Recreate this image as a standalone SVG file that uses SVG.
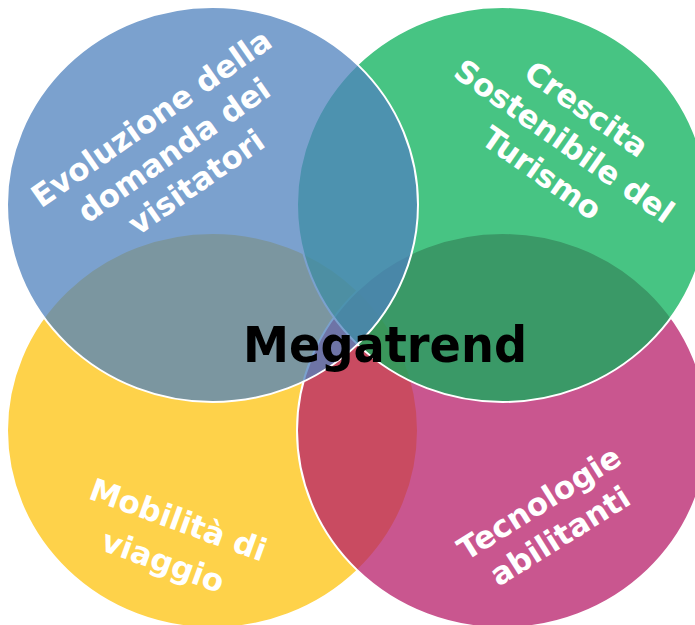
<svg xmlns="http://www.w3.org/2000/svg" width="695" height="625" viewBox="0 0 695 625">
<style>
.c{fill-opacity:0.75;stroke:#fff;stroke-width:2}
.lbl{font-family:"DejaVu Sans","Liberation Sans",sans-serif;font-weight:bold;font-size:31px;fill:#fff;text-anchor:middle}
.title{font-family:"DejaVu Sans","Liberation Sans",sans-serif;font-weight:bold;font-size:50px;fill:#000}
</style>
<rect width="695" height="625" fill="#fff"/>
<g id="node-mobilita">
<ellipse class="c" cx="212.5" cy="430.5" rx="205.5" ry="197.5" fill="#FEC30E"/>
<text class="lbl" transform="translate(174.5,530) rotate(20)"><tspan x="0" y="0">Mobilità di</tspan><tspan x="0" y="44">viaggio</tspan></text>
</g>
<g id="node-tecnologie">
<ellipse class="c" cx="502.5" cy="430.5" rx="205.5" ry="197.5" fill="#B71E6A"/>
<text class="lbl" transform="translate(545,512) rotate(-32)"><tspan x="0" y="0">Tecnologie</tspan><tspan x="0" y="39">abilitanti</tspan></text>
</g>
<g id="node-crescita">
<ellipse class="c" cx="502.5" cy="204.5" rx="205.5" ry="197.5" fill="#0AB05A"/>
<text class="lbl" transform="translate(558,150) rotate(35)"><tspan x="0" y="-39">Crescita</tspan><tspan x="0" y="0">Sostenibile del</tspan><tspan x="0" y="39">Turismo</tspan></text>
</g>
<g id="node-evoluzione">
<ellipse class="c" cx="212.5" cy="204.5" rx="205.5" ry="197.5" fill="#4F81BD"/>
<text class="lbl" transform="translate(180,159) rotate(-35)"><tspan x="0" y="-39">Evoluzione della</tspan><tspan x="0" y="0">domanda dei</tspan><tspan x="0" y="39">visitatori</tspan></text>
</g>
<g id="node-megatrend">
<text class="title" x="243" y="362" textLength="284" lengthAdjust="spacingAndGlyphs">Megatrend</text>
</g>
</svg>
